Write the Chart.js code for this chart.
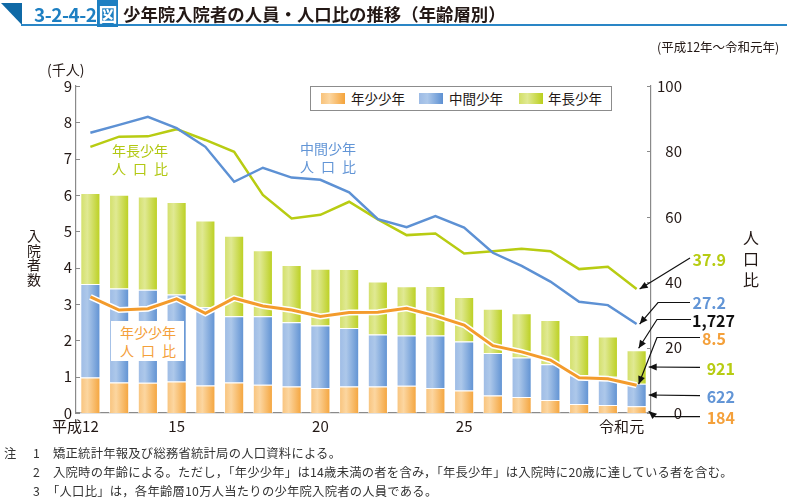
<!DOCTYPE html>
<html><head><meta charset="utf-8">
<script src="https://cdn.jsdelivr.net/npm/chart.js@4.4.1/dist/chart.umd.min.js"></script>
<style>
html,body{margin:0;padding:0;background:#fff;}
body{width:787px;height:500px;position:relative;overflow:hidden;font-family:"Noto Sans CJK JP","Noto Sans",sans-serif;color:#231815;}
canvas{position:absolute;left:0;top:0;}
.abs{position:absolute;white-space:nowrap;}
.tri{position:absolute;left:1px;top:3px;width:21px;height:22px;background:#0f69a6;clip-path:polygon(0 0,100% 0,100% 100%);}
.uline{position:absolute;left:21px;top:24px;width:766px;height:2px;background:#2a86c6;}
.fig{left:34px;top:3px;font-size:19px;font-weight:700;color:#1d7fc2;line-height:22px;letter-spacing:-0.5px;}
.fig span{background:#1d7fc2;color:#fff;padding:0 1px;margin-left:1px;}
.ttl{left:123px;top:3px;font-size:17.4px;font-weight:700;line-height:22px;}
.note{font-size:12.3px;line-height:16px;color:#333;letter-spacing:0.25px;}
.legend{position:absolute;left:310px;top:86px;width:300px;height:23px;border:1px solid #8c8c8c;background:#fff;}
.sw{position:absolute;top:6px;width:24px;height:11px;}
.lt{position:absolute;top:0;font-size:13.5px;line-height:23px;}
.ann{position:absolute;font-size:14px;line-height:18px;width:56px;}
.ann div{display:flex;justify-content:space-between;}
.rl{position:absolute;font-size:16px;font-weight:700;line-height:20px;text-align:right;}
</style>
</head><body>
<canvas id="c" width="787" height="500"></canvas>
<div class="tri"></div><div class="uline"></div>
<div class="abs fig">3-2-4-2<span>図</span></div>
<div class="abs ttl">少年院入院者の人員・人口比の推移（年齢層別）</div>
<div class="abs" style="left:657px;top:38px;font-size:12.5px;line-height:18px;">(平成12年～令和元年)</div>
<div class="abs" style="left:47px;top:60px;font-size:14px;line-height:18px;">(千人)</div>
<div class="abs" style="left:27px;top:228px;font-size:14px;line-height:14.7px;width:15px;white-space:normal;">入院者数</div>
<div class="abs" style="left:743px;top:227px;font-size:16px;line-height:21px;width:17px;white-space:normal;">人口比</div>

<div class="legend">
  <div class="sw" style="left:10px;background:linear-gradient(90deg,#f8c27a,#fcd6a0 35%,#f4a33a);"></div>
  <div class="lt" style="left:40px;">年少少年</div>
  <div class="sw" style="left:108px;background:linear-gradient(90deg,#9dbbe5,#adc8ea 35%,#5d90d2);"></div>
  <div class="lt" style="left:138px;">中間少年</div>
  <div class="sw" style="left:208px;background:linear-gradient(90deg,#d2df66,#e0e993 35%,#bacf1c);"></div>
  <div class="lt" style="left:237px;">年長少年</div>
</div>

<div class="ann" style="left:112px;top:141px;color:#b2c812;"><div>年長少年</div><div><span>人</span><span>口</span><span>比</span></div></div>
<div class="ann" style="left:300px;top:139px;color:#6295d6;"><div>中間少年</div><div><span>人</span><span>口</span><span>比</span></div></div>
<div class="abs" style="left:111px;top:321px;width:73px;height:40px;background:#fff;"></div>
<div class="ann" style="left:120px;top:323px;color:#f4a03a;"><div>年少少年</div><div><span>人</span><span>口</span><span>比</span></div></div>

<div class="rl" style="right:61px;top:249px;color:#b7cc12;">37.9</div>
<div class="rl" style="right:61px;top:292px;color:#6295d6;">27.2</div>
<div class="rl" style="right:52px;top:309.5px;color:#111;">1,727</div>
<div class="rl" style="right:61px;top:327.5px;color:#f4a03a;">8.5</div>
<div class="rl" style="right:52px;top:357.5px;color:#b7cc12;">921</div>
<div class="rl" style="right:52px;top:386px;color:#6295d6;">622</div>
<div class="rl" style="right:52px;top:407px;color:#f4a03a;">184</div>

<div class="abs note" style="left:4px;top:445px;">注</div>
<div class="abs note" style="left:33px;top:445px;">1</div>
<div class="abs note" style="left:53px;top:445px;">矯正統計年報及び総務省統計局の人口資料による。</div>
<div class="abs note" style="left:33px;top:464px;">2</div>
<div class="abs note" style="left:53px;top:464px;">入院時の年齢による。ただし，「年少少年」は14歳未満の者を含み，「年長少年」は入院時に20歳に達している者を含む。</div>
<div class="abs note" style="left:33px;top:483px;">3</div>
<div class="abs note" style="left:47px;top:483px;">「人口比」は，各年齢層10万人当たりの少年院入院者の人員である。</div>

<script>
const categories = ['平成12','13','14','15','16','17','18','19','20','21','22','23','24','25','26','27','28','29','30','令和元'];
const tickLabels = ['平成12\u3000\u3000','','','15','','','','','20','','','','','25','','','','','','令和元\u3000\u3000'];
// 入院者数（人）
const young  = [980,840,830,870,760,840,780,730,690,730,730,750,690,620,480,440,360,250,220,184];
const middle = [2570,2590,2560,2390,2150,1820,1880,1770,1720,1610,1430,1380,1440,1350,1170,1090,980,790,780,622];
const old    = [2502,2578,2572,2546,2390,2218,1822,1574,1561,1622,1459,1356,1368,1223,1222,1213,1223,1107,1108,921];
// 人口比
const youngRate  = [35.5,31.5,31.9,34.9,30.5,35.1,32.7,31.5,29.5,30.7,30.8,32.0,29.7,26.9,20.6,18.7,16.2,10.8,10.5,8.5];
const middleRate = [85.7,88.1,90.6,87.1,81.4,70.7,75.0,72.0,71.3,67.5,59.3,56.8,60.2,56.7,49.0,45.0,40.2,34.0,33.0,27.2];
const oldRate    = [81.4,84.5,84.6,86.8,83.5,79.9,66.7,59.5,60.6,64.6,59.2,54.4,54.9,48.8,49.5,50.2,49.5,44.0,44.7,37.9];
const leftTicks = [0,1,2,3,4,5,6,7,8,9];
const rightTicks = [0,20,40,60,80,100];

const BAR_PCT = 0.7;
function barGrad(stops){
  return function(ctx){
    const chart = ctx.chart, xs = chart.scales.x;
    if(!xs || ctx.dataIndex === undefined || !chart.chartArea) return stops[1];
    const cx = xs.getPixelForValue(ctx.dataIndex);
    const w = xs.width / categories.length * BAR_PCT;
    const g = chart.ctx.createLinearGradient(cx - w/2, 0, cx + w/2, 0);
    g.addColorStop(0, stops[0]); g.addColorStop(0.35, stops[1]); g.addColorStop(1, stops[2]);
    return g;
  };
}
const k = a => a.map(v => v/1000);

const tickPlugin = {
  id:'innerTicks',
  afterDraw(chart){
    const c = chart.ctx, a = chart.chartArea;
    c.save(); c.strokeStyle = '#8a8a8a'; c.lineWidth = 1;
    chart.scales.y.ticks.forEach(t => { const y = Math.round(chart.scales.y.getPixelForValue(t.value))+0.5; c.beginPath(); c.moveTo(a.left, y); c.lineTo(a.left+4, y); c.stroke(); });
    chart.scales.y1.ticks.forEach(t => { const y = Math.round(chart.scales.y1.getPixelForValue(t.value))+0.5; c.beginPath(); c.moveTo(a.right, y); c.lineTo(a.right-4, y); c.stroke(); });
    c.restore();
  }
};

const arrowPlugin = {
  id:'arrows',
  afterDraw(chart){
    const c = chart.ctx, xs = chart.scales.x, yL = chart.scales.y, yR = chart.scales.y1;
    const i = categories.length - 1;
    const px = xs.getPixelForValue(i);
    const half = xs.width / categories.length * BAR_PCT / 2;
    const total = (young[i]+middle[i]+old[i])/1000;
    const paths = [
      [[690,258],[px+3, yR.getPixelForValue(oldRate[i])]],
      [[690,302.5],[658,302.5],[px+3, yR.getPixelForValue(middleRate[i])]],
      [[691,319.5],[657,319.5],[px+2, yL.getPixelForValue(total)-2]],
      [[700,337.5],[657,337.5],[px+2, yR.getPixelForValue(youngRate[i])-1]],
      [[700,367.3],[px+half+2, yL.getPixelForValue((young[i]+middle[i]+old[i]/2)/1000)]],
      [[700,395.7],[px+half+2, yL.getPixelForValue((young[i]+middle[i]/2)/1000)]],
      [[700,416.7],[655,416.7],[px+half+2, yL.getPixelForValue(young[i]/2/1000)+1.5]]
    ];
    c.save();
    c.strokeStyle = '#111'; c.fillStyle = '#111'; c.lineWidth = 1.2;
    paths.forEach(p => {
      c.beginPath(); c.moveTo(p[0][0], p[0][1]);
      for(let j=1;j<p.length;j++) c.lineTo(p[j][0], p[j][1]);
      c.stroke();
      const [x1,y1] = p[p.length-2], [x2,y2] = p[p.length-1];
      const ang = Math.atan2(y2-y1, x2-x1), L = 8, W = 3.5;
      c.beginPath(); c.moveTo(x2,y2);
      c.lineTo(x2 - L*Math.cos(ang) + W*Math.sin(ang), y2 - L*Math.sin(ang) - W*Math.cos(ang));
      c.lineTo(x2 - L*Math.cos(ang) - W*Math.sin(ang), y2 - L*Math.sin(ang) + W*Math.cos(ang));
      c.closePath(); c.fill();
    });
    c.restore();
  }
};

const tickFont = {family:'"Noto Sans CJK JP", "Noto Sans", sans-serif', size:15};
new Chart(document.getElementById('c'), {
  data:{
    labels: categories,
    datasets:[
      {type:'line', label:'年長少年人口比', data:oldRate, yAxisID:'y1', borderColor:'#b8cc12', borderWidth:2.5, pointRadius:0, tension:0, order:3},
      {type:'line', label:'中間少年人口比', data:middleRate, yAxisID:'y1', borderColor:'#5d91d4', borderWidth:2.5, pointRadius:0, tension:0, order:2},
      {type:'line', label:'halo', data:youngRate, yAxisID:'y1', borderColor:'#ffffff', borderWidth:6, pointRadius:0, tension:0, order:1},
      {type:'line', label:'年少少年人口比', data:youngRate, yAxisID:'y1', borderColor:'#f39b2c', borderWidth:3, pointRadius:0, tension:0, order:0},
      {type:'bar', label:'年少少年', data:k(young), yAxisID:'y', stack:'s', backgroundColor:barGrad(['#f8c27a','#fcd6a0','#f4a33a']), borderColor:'rgba(255,255,255,0.75)', borderWidth:1, barPercentage:BAR_PCT, categoryPercentage:1, order:10},
      {type:'bar', label:'中間少年', data:k(middle), yAxisID:'y', stack:'s', backgroundColor:barGrad(['#9dbbe5','#adc8ea','#5d90d2']), borderColor:'rgba(255,255,255,0.75)', borderWidth:1, barPercentage:BAR_PCT, categoryPercentage:1, order:10},
      {type:'bar', label:'年長少年', data:k(old), yAxisID:'y', stack:'s', backgroundColor:barGrad(['#d2df66','#e0e993','#bacf1c']), borderColor:'rgba(255,255,255,0.75)', borderWidth:1, barPercentage:BAR_PCT, categoryPercentage:1, order:10}
    ]
  },
  options:{
    responsive:false, animation:false, devicePixelRatio:1,
    layout:{padding:{left:36, right:105, top:86, bottom:57}},
    plugins:{legend:{display:false}, tooltip:{enabled:false}},
    scales:{
      x:{stacked:true, offset:true, grid:{display:false, drawTicks:false}, border:{display:true, color:'#8a8a8a', width:1.2},
         ticks:{autoSkip:false, maxRotation:0, padding:4, color:'#231815', font:tickFont, callback:(v,idx)=>tickLabels[idx]},
         afterFit:s=>{s.height=30;}},
      y:{position:'left', stacked:true, min:0, max:9, grid:{display:false, drawTicks:false}, border:{display:true, color:'#8a8a8a', width:1.2},
         afterBuildTicks:s=>{s.ticks = leftTicks.map(v=>({value:v}));},
         ticks:{padding:4, color:'#231815', font:tickFont}, afterFit:s=>{s.width=40;}},
      y1:{position:'right', min:0, max:100, grid:{display:false, drawTicks:false}, border:{display:true, color:'#8a8a8a', width:1.2},
         afterBuildTicks:s=>{s.ticks = rightTicks.map(v=>({value:v}));},
         ticks:{padding:4, crossAlign:'far', color:'#231815', font:tickFont}, afterFit:s=>{s.width=31;}}
    }
  },
  plugins:[tickPlugin, arrowPlugin]
});
</script>
</body></html>
